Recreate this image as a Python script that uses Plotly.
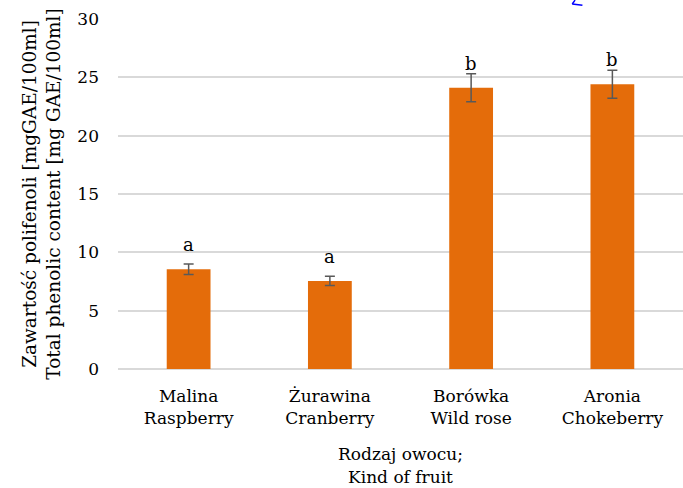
import plotly.graph_objects as go

categories = ["Malina<br>Raspberry", "Żurawina<br>Cranberry", "Borówka<br>Wild rose", "Aronia<br>Chokeberry"]
values = [8.55, 7.55, 24.1, 24.4]
errors = [0.45, 0.4, 1.2, 1.2]
letters = ["a", "a", "b", "b"]
y_ticks = [0, 5, 10, 15, 20, 25, 30]

FONT = "DejaVu Serif"
FS = 17

fig = go.Figure()
fig.add_trace(go.Bar(
    x=categories, y=values,
    marker=dict(color="#E46C0A", line=dict(width=0)),
    width=0.31,
    error_y=dict(type="data", array=errors, visible=True, color="#595959", thickness=1.5, width=5),
    showlegend=False,
))
for c, v, t in zip(categories, values, letters):
    fig.add_annotation(x=c, y=v, text=t, showarrow=False, yanchor="bottom", yshift=12,
                       font=dict(family=FONT, size=18, color="#000000"))

fig.update_layout(
    width=683, height=488,
    margin=dict(l=118, r=0, t=19, b=119),
    paper_bgcolor="white", plot_bgcolor="white",
    font=dict(family=FONT, size=FS, color="#000000"),
    bargap=0.69,
    xaxis=dict(
        showgrid=False, showline=False, ticks="",
        tickfont=dict(family=FONT, size=FS),
        ticklabelstandoff=15,
        title=dict(text="Rodzaj owocu;<br>Kind of fruit", font=dict(family=FONT, size=FS), standoff=21),
    ),
    yaxis=dict(
        range=[0, 30], tickvals=y_ticks, showgrid=True, gridcolor="#D9D9D9", gridwidth=1.5,
        zeroline=True, zerolinecolor="#D9D9D9", zerolinewidth=1.5,
        showline=False, ticks="", ticklen=0,
        tickfont=dict(family=FONT, size=FS),
        ticklabelstandoff=18,
        title=dict(text="Zawartość polifenoli [mgGAE/100ml]<br>Total phenolic content [mg GAE/100ml]",
                   font=dict(family=FONT, size=18.5), standoff=11),
    ),
)

# small blue artifact at top
fig.add_shape(type="line", xref="paper", yref="paper", x0=0.809, y0=1.054, x1=0.804, y1=1.043,
              line=dict(color="#0000FF", width=1.5))
fig.add_shape(type="line", xref="paper", yref="paper", x0=0.804, y0=1.043, x1=0.822, y1=1.039,
              line=dict(color="#0000FF", width=1.5))

fig.write_html("out.html")
